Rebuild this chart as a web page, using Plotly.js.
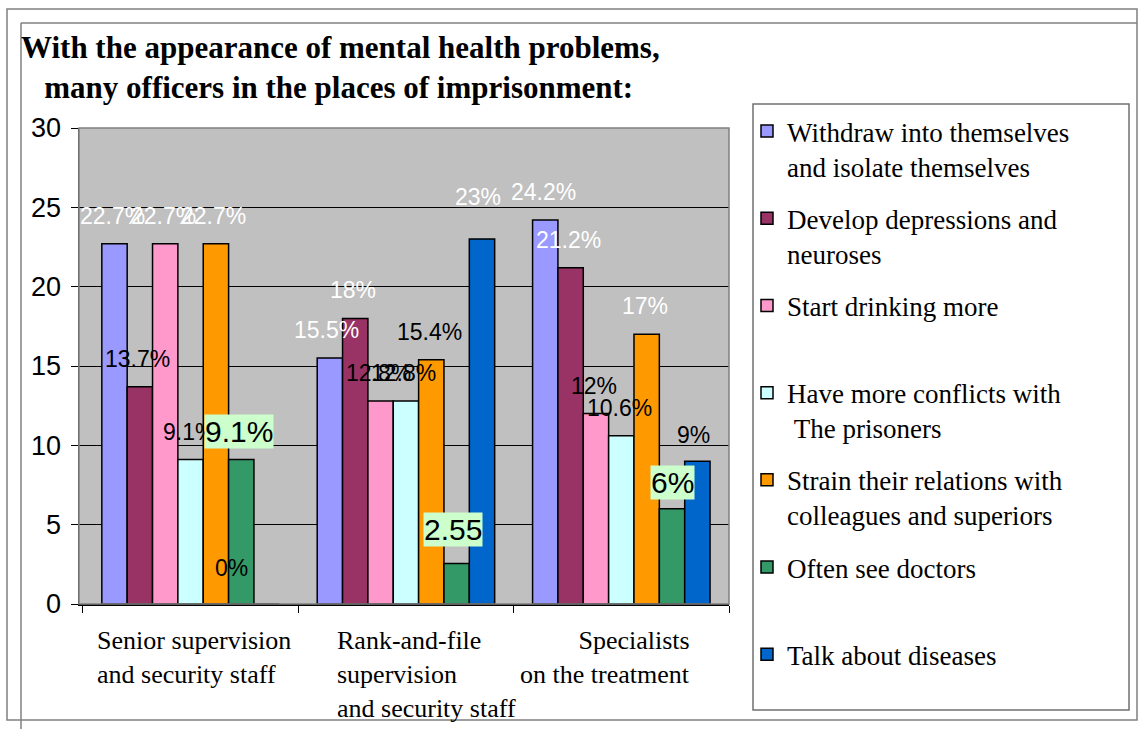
<!DOCTYPE html>
<html>
<head>
<meta charset="utf-8">
<script src="https://cdn.plot.ly/plotly-3.0.1.min.js"></script>
<style>html,body{margin:0;padding:0;background:#fff;}#chart{width:1138px;height:729px;}</style>
</head>
<body>
<div id="chart"></div>
<script>
// ---------- data ----------
const categories = ["Senior supervision and security staff", "Rank-and-file supervision and security staff", "Specialists on the treatment"];
const categoryLabels = ["Senior supervision<br>and security staff", "Rank-and-file<br>supervision<br>and security staff", "\u00a0\u00a0\u00a0\u00a0\u00a0\u00a0\u00a0\u00a0\u00a0Specialists<br>on the treatment"];
const seriesNames = [
  "Withdraw into themselves<br>and isolate themselves",
  "Develop depressions and<br>neuroses",
  "Start drinking more<br>\u00a0",
  "Have more conflicts with<br>\u00a0The prisoners",
  "Strain their relations with<br>colleagues and superiors",
  "Often see doctors<br>\u00a0",
  "Talk about diseases<br>\u00a0"
];
const withdrawValues  = [22.7, 15.5, 24.2];
const depressValues   = [13.7, 18, 21.2];
const drinkingValues  = [22.7, 12.8, 12];
const conflictsValues = [9.1, 12.8, 10.6];
const strainValues    = [22.7, 15.4, 17];
const doctorsValues   = [9.1, 2.55, 6];
const talkValues      = [0, 23, 9];
const withdrawLabels  = ["22.7%", "15.5%", "24.2%"];
const depressLabels   = ["13.7%", "18%", "21.2%"];
const drinkingLabels  = ["22.7%", "12.8%", "12%"];
const conflictsLabels = ["9.1%", "12.8%", "10.6%"];
const strainLabels    = ["22.7%", "15.4%", "17%"];
const doctorsLabels   = ["9.1%", "2.55", "6%"];
const talkLabels      = ["0%", "23%", "9%"];
const yTicks = [0, 5, 10, 15, 20, 25, 30];

// ---------- style ----------
const allValues = [withdrawValues, depressValues, drinkingValues, conflictsValues, strainValues, doctorsValues, talkValues];
const allLabels = [withdrawLabels, depressLabels, drinkingLabels, conflictsLabels, strainLabels, doctorsLabels, talkLabels];
const colors = ["#9999ff", "#993366", "#ff99cc", "#ccffff", "#ff9900", "#339966", "#0066cc"];
const labelColors = [
  ["#fff", "#fff", "#fff"],
  ["#000", "#fff", "#fff"],
  ["#fff", "#000", "#000"],
  ["#000", "#000", "#000"],
  ["#fff", "#000", "#fff"],
  ["#000", "#000", "#000"],
  ["#000", "#fff", "#000"]
];
// per-label nudges [dx, up] in px (series index, group index)
const nudge = {"6-0": [-35, 36], "6-1": [-4, 42], "5-1": [-4, 34], "5-2": [0, 26], "6-2": [-4, 26], "0-1": [-3, 28]};
const boxedSeries = 5;
const bargap = 0.176;
const slot = (1 - bargap) / 7;

const L = 79, R = 729, T = 128, B = 604;
const px = x => (x - L) / (R - L);
const py = y => (B - y) / (B - T);

const serif = "Liberation Serif, Times New Roman, serif";
const sans = "Liberation Sans, Arial, sans-serif";

const traces = allValues.map((vals, i) => ({
  type: "bar",
  name: seriesNames[i],
  x: categories,
  y: vals,
  legendgroup: "g" + i,
  marker: {color: colors[i], line: {color: "#000", width: 1.5}},
  hoverinfo: "skip"
}));

const annotations = [];
// data labels
allValues.forEach((vals, i) => {
  vals.forEach((v, g) => {
    const n = nudge[i + "-" + g] || [-2, 28];
    const boxed = i === boxedSeries;
    annotations.push({
      xref: "x", yref: "y",
      x: g + (i - 3) * slot, y: v,
      xshift: n[0], yshift: n[1],
      xanchor: "center", yanchor: "middle",
      text: allLabels[i][g], showarrow: false,
      font: {family: sans, size: boxed ? 30 : 23, color: labelColors[i][g]},
      bgcolor: boxed ? "#ccffcc" : "rgba(0,0,0,0)",
      borderpad: 0
    });
  });
});
// category labels
const catX = [95, 335, 518];
categoryLabels.forEach((t, g) => {
  annotations.push({
    xref: "paper", yref: "paper", x: px(catX[g]), y: py(624),
    xanchor: "left", yanchor: "top", align: "left", showarrow: false,
    text: t, font: {family: serif, size: 26, color: "#000"}
  });
});
// title
annotations.push({
  xref: "paper", yref: "paper", x: px(19), y: py(67),
  xanchor: "left", yanchor: "middle", align: "left", showarrow: false,
  text: "<b>With the appearance of mental health problems,<br>\u00a0\u00a0\u00a0many officers in the places of imprisonment:</b>",
  font: {family: serif, size: 31, color: "#000"}
});

const shapes = [
  // outer frame
  {type: "rect", xref: "paper", yref: "paper", x0: px(7), x1: px(1137), y0: py(720), y1: py(9), line: {color: "#808080", width: 1.5}, layer: "above"},
  {type: "line", xref: "paper", yref: "paper", x0: px(21), x1: px(1137), y0: py(23), y1: py(23), line: {color: "#808080", width: 1.5}},
  {type: "line", xref: "paper", yref: "paper", x0: px(21), x1: px(21), y0: py(23), y1: py(735), line: {color: "#808080", width: 1.5}},
  // legend box
  {type: "rect", xref: "paper", yref: "paper", x0: px(753), x1: px(1129), y0: py(710), y1: py(104), line: {color: "#707070", width: 1.5}},
  // plot border
  {type: "rect", xref: "paper", yref: "paper", x0: 0, x1: 1, y0: 0, y1: 1, line: {color: "#808080", width: 1.5}}
];

const layout = {
  width: 1138, height: 729,
  margin: {l: L, r: 1138 - R, t: T, b: 729 - B, autoexpand: false},
  paper_bgcolor: "#fff",
  plot_bgcolor: "#c0c0c0",
  barmode: "group",
  bargap: bargap,
  bargroupgap: 0,
  showlegend: true,
  legend: {
    x: px(747), y: py(107), xanchor: "left", yanchor: "top",
    font: {family: serif, size: 27, color: "#000"},
    bgcolor: "rgba(0,0,0,0)", borderwidth: 0,
    traceorder: "grouped", tracegroupgap: 14, valign: "top",
    maxheight: 720
  },
  xaxis: {
    type: "category", tickson: "boundaries", ticks: "outside", ticklen: 7, tickcolor: "#000",
    showticklabels: false, showgrid: false, showline: true, linecolor: "#000", linewidth: 1.5,
    zeroline: false
  },
  yaxis: {
    range: [0, 30], tickvals: yTicks, ticks: "outside", ticklen: 7, tickcolor: "#000",
    showgrid: true, gridcolor: "#000", gridwidth: 1, showline: true, linecolor: "#404040", linewidth: 1.5,
    zeroline: false, ticklabelstandoff: 4,
    tickfont: {family: sans, size: 27, color: "#000"}
  },
  annotations: annotations,
  shapes: shapes
};

Plotly.newPlot("chart", traces, layout, {staticPlot: true, displayModeBar: false});
</script>
</body>
</html>
